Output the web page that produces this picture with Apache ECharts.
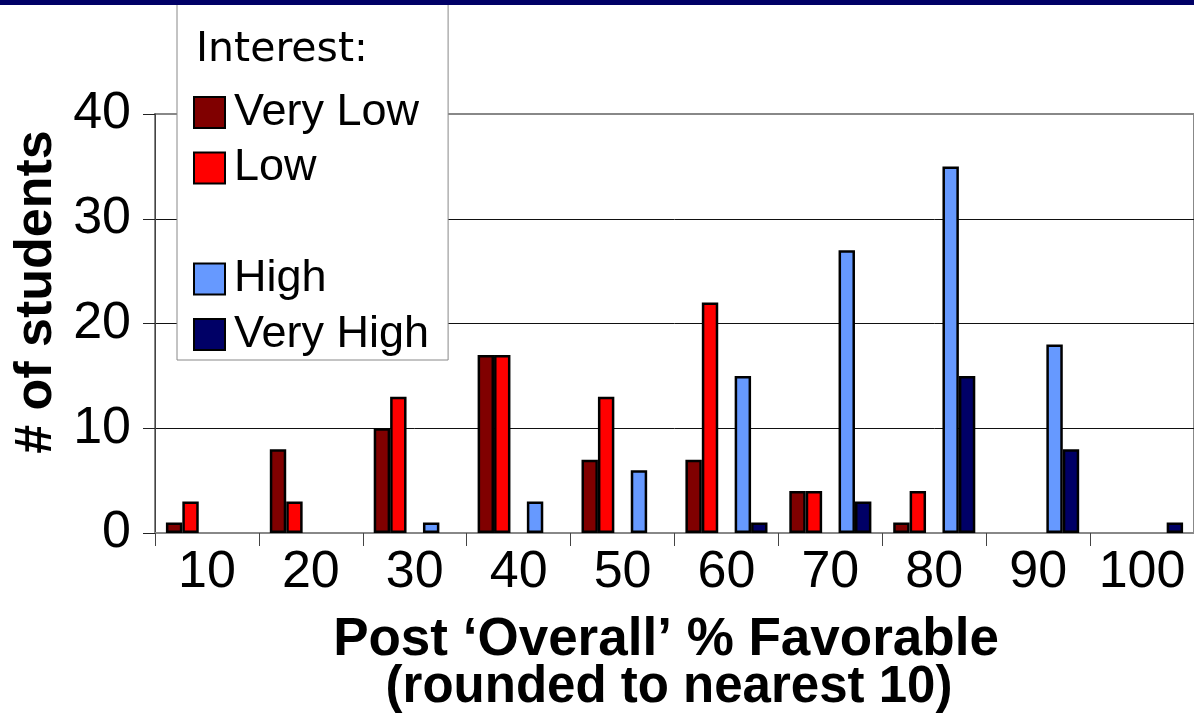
<!DOCTYPE html>
<html>
<head>
<meta charset="utf-8">
<script src="https://cdn.jsdelivr.net/npm/echarts@6/dist/echarts.min.js"></script>
<style>
  html, body { margin: 0; padding: 0; background: #ffffff; }
  #chart { width: 1194px; height: 720px; }
</style>
</head>
<body>
<div id="chart"></div>
<script>
// Post "Overall" % favorable, rounded to nearest 10, split by interest level
const categories = ['10', '20', '30', '40', '50', '60', '70', '80', '90', '100'];
const veryLow  = [1, 8, 10, 17, 7, 7, 4, 1, null, null];
const low      = [3, 3, 13, 17, 13, 22, 4, 4, null, null];
const medium   = [null, null, null, null, null, null, null, null, null, null];
const high     = [null, null, 1, 3, 6, 15, 27, 35, 18, null];
const veryHigh = [null, null, null, null, null, 1, 3, 15, 8, 1];
const yTicks = [0, 10, 20, 30, 40];

const FONT = '"Liberation Sans", Arial, sans-serif';

const chart = echarts.init(document.getElementById('chart'), null, { renderer: 'canvas' });

function barSeries(name, data, color) {
  return {
    name: name,
    type: 'bar',
    data: data,
    barGap: '0%',
    barCategoryGap: '21%',
    itemStyle: { color: color, borderColor: '#000000', borderWidth: 2.5 },
    emphasis: { disabled: true }
  };
}

chart.setOption({
  animation: false,
  backgroundColor: '#ffffff',
  grid: {
    left: 155, right: -4, top: 114, bottom: 187,
    show: true, borderColor: '#888888', borderWidth: 2, backgroundColor: 'transparent'
  },
  legend: {
    orient: 'vertical',
    left: 177, top: 1,
    padding: [89, 19, 3, 16],
    backgroundColor: '#ffffff',
    borderColor: '#888888', borderWidth: 1,
    icon: 'rect',
    itemWidth: 31, itemHeight: 31, itemGap: 10.5,
    selectedMode: false,
    textStyle: {
      fontFamily: FONT, fontSize: 45, color: '#000000',
      rich: { t: { fontFamily: FONT, fontSize: 45, color: '#000000', lineHeight: 44, padding: [0, 0, 0, 4] } }
    },
    itemStyle: { borderColor: '#000000', borderWidth: 2 },
    formatter: function (name) { return name === 'Medium' ? '{t| }' : '{t|' + name + '}'; },
    data: [
      { name: 'Very Low' },
      { name: 'Low' },
      { name: 'Medium', icon: 'none' },
      { name: 'High' },
      { name: 'Very High' }
    ]
  },
  xAxis: {
    type: 'category',
    data: categories,
    axisLine: { show: true, lineStyle: { color: '#888888', width: 2 } },
    axisTick: { show: true, length: 13, lineStyle: { color: '#444444', width: 1 } },
    axisLabel: { interval: 0, fontFamily: FONT, fontSize: 52, color: '#000000', margin: 14 },
    splitLine: { show: false }
  },
  yAxis: {
    type: 'value',
    min: yTicks[0], max: yTicks[yTicks.length - 1], interval: 10,
    axisLine: { show: true, lineStyle: { color: '#444444', width: 1 } },
    axisTick: { show: true, length: 12, lineStyle: { color: '#222222', width: 1 } },
    axisLabel: { fontFamily: FONT, fontSize: 52, color: '#000000', margin: 24 },
    splitLine: { show: true, lineStyle: { color: ['#000000', '#111111', '#111111', '#111111', '#888888'], width: 1 } }
  },
  series: [
    barSeries('Very Low', veryLow, '#800000'),
    barSeries('Low', low, '#ff0000'),
    barSeries('Medium', medium, '#ffff99'),
    barSeries('High', high, '#6699ff'),
    barSeries('Very High', veryHigh, '#000066')
  ],
  graphic: [
    { type: 'rect', z: 100, shape: { x: 0, y: 0, width: 1194, height: 5 }, style: { fill: '#000066' } },
    { type: 'text', z: 100, x: 196, y: 50,
      style: { text: 'Interest:', font: '41px "DejaVu Sans", Tahoma, sans-serif', fill: '#000000',
               textAlign: 'left', textVerticalAlign: 'middle' } },
    { type: 'text', z: 100, x: 37, y: 292, rotation: Math.PI / 2,
      style: { text: '# of students', font: 'bold 52px ' + FONT, fill: '#000000',
               textAlign: 'center', textVerticalAlign: 'middle' } },
    { type: 'text', z: 100, x: 666, y: 640,
      style: { text: 'Post \u2018Overall\u2019 % Favorable', font: 'bold 53px ' + FONT, fill: '#000000',
               textAlign: 'center', textVerticalAlign: 'middle' } },
    { type: 'text', z: 100, x: 669, y: 688,
      style: { text: '(rounded to nearest 10)', font: 'bold 51px ' + FONT, fill: '#000000',
               textAlign: 'center', textVerticalAlign: 'middle' } }
  ]
});
</script>
</body>
</html>
